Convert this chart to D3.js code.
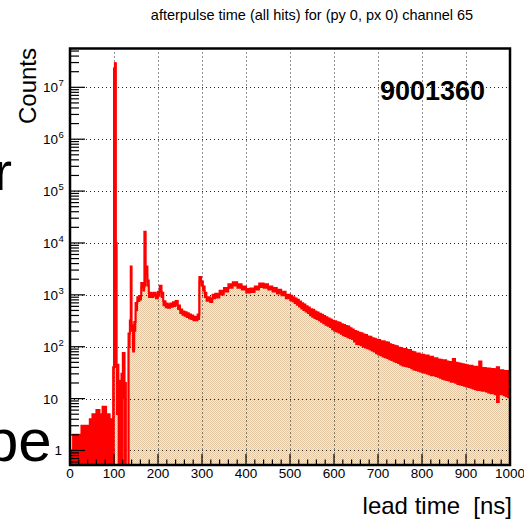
<!DOCTYPE html>
<html>
<head>
<meta charset="utf-8">
<script src="https://cdn.jsdelivr.net/npm/d3@7"></script>
<style>
  body { margin: 0; background: #fff; }
  svg { display: block; }
  text { font-family: "Liberation Sans", Arial, Helvetica, sans-serif; }
</style>
</head>
<body>
<div id="chart"></div>
<script>
// histogram: bin start [ns], upper / lower edge of the drawn line
const times = [0, 6, 7, 10, 11, 26, 45, 51, 60, 67, 74, 82, 90, 98,
  100, 102, 104, 106, 110, 114, 117, 120, 124, 127, 133, 136, 138, 140, 143, 146, 149, 153, 158,
  162, 166, 169, 172, 176, 179, 185, 190, 195,
  200, 204, 208, 212, 217, 222, 228, 234, 240, 245, 250, 255, 260, 265, 270, 275, 280, 285, 290, 294, 298,
  302, 306, 310, 318, 324, 330, 340, 350, 360, 370, 380, 390, 400, 410, 420, 430, 440, 450, 460, 470, 480, 490,
  500, 505, 510, 515, 520, 525, 530, 535, 540, 545, 550, 555, 560, 565, 570, 575, 580, 585, 590, 595,
  600, 605, 610, 615, 620, 625, 630, 635, 640, 645, 650, 655, 660, 665, 670, 675, 680, 685, 690, 695,
  700, 705, 710, 715, 720, 725, 730, 735, 740, 745, 750, 755, 760, 765, 770, 775, 780, 785, 790, 795,
  800, 805, 810, 815, 820, 825, 830, 835, 840, 845, 850, 855, 860, 865, 870, 875, 880, 885, 890, 895,
  900, 905, 910, 915, 920, 925, 930, 935, 940, 945, 950, 955, 960, 965, 970, 975, 980, 985, 990, 995];
const upper = [1, 0, 2, 0, 2, 3, 4, 5, 6, 5, 7, 5, 4, 40,
  2.3e7, 2.9e7, 1.0e4, 45, 22, 14, 30, 76, 20, 0, 180, 320, 3500, 260, 90, 300, 700, 900, 950,
  1700, 1400, 16500, 3500, 1900, 1100, 1050, 1100, 1000,
  1150, 1500, 1100, 750, 680, 650, 680, 720, 760, 620, 520, 480, 460, 440, 420, 400, 380, 375, 420, 2200, 1800,
  1450, 1100, 900, 850, 1000, 1050, 1200, 1350, 1600, 1750, 1600, 1450, 1300, 1320, 1450, 1650, 1600, 1450, 1350, 1250, 1150, 1000,
  960, 900, 850, 800, 740, 690, 650, 600, 570, 530, 515, 480, 455, 430, 415, 390, 370, 350, 335, 318,
  310, 295, 290, 270, 262, 250, 245, 228, 215, 200, 195, 185, 182, 172, 168, 158, 155, 146, 142, 136,
  135, 128, 127, 122, 120, 112, 108, 104, 102, 96, 94, 90, 90, 86, 86, 80, 78, 74, 74, 70,
  70, 68, 68, 64, 64, 60, 60, 57, 56, 54, 55, 52, 51, 50, 58, 49, 48, 47, 46, 45,
  44, 43, 43, 41, 41, 40, 52, 39, 39, 38, 38, 37, 37, 36, 40, 35, 35, 34, 34, 33];
const lower = [0, 0, 0, 0, 0, 0, 0, 0, 0, 0, 0, 0, 0, 0,
  2.3e7, 2.9e7, 40, 5, 0, 0, 0, 10, 0, 0, 100, 250, 300, 200, 80, 200, 500, 750, 800,
  1400, 1200, 1500, 2500, 1500, 900, 900, 950, 850,
  950, 1200, 900, 620, 570, 560, 580, 600, 640, 530, 440, 410, 390, 370, 350, 340, 320, 320, 340, 1800, 1500,
  1200, 900, 760, 720, 850, 880, 1000, 1150, 1350, 1500, 1350, 1250, 1100, 1120, 1250, 1400, 1350, 1250, 1150, 1050, 970, 850,
  790, 740, 690, 640, 590, 540, 505, 470, 440, 400, 375, 355, 340, 320, 300, 280, 262, 250, 236, 215,
  200, 195, 185, 175, 165, 160, 150, 146, 140, 125, 112, 110, 105, 100, 96, 92, 88, 84, 80, 74,
  70, 68, 64, 62, 60, 57, 55, 52, 50, 48, 45, 43, 42, 41, 40, 38, 36, 35, 34, 33,
  32, 31, 30, 29, 28, 28, 27, 26, 25, 24, 23, 22.5, 22, 21, 21, 20, 19, 18.5, 18, 17.5,
  17, 16.5, 16, 15.5, 15, 14.5, 14.5, 14, 14, 13.5, 13, 12.5, 12.5, 12, 8.5, 12, 12, 11.5, 11, 10.5];

const xTickValues = [0, 100, 200, 300, 400, 500, 600, 700, 800, 900, 1000];
const yExponents = [0, 1, 2, 3, 4, 5, 6, 7];

const title = 'afterpulse time (all hits) for (py 0, px 0) channel 65';
const entries = '9001360';

const W = 524, H = 520;
const frame = { left: 70, right: 510, top: 48.5, bottom: 465 };
const yMin = 0.525, yMax = 5.6e7;

const svg = d3.select('#chart').append('svg')
  .attr('width', W).attr('height', H);

svg.append('rect').attr('width', W).attr('height', H).attr('fill', '#fff');

// fragments of the slide text behind the plot
svg.append('text').attr('x', -6).attr('y', 190)
  .style('font-size', '54px').attr('fill', '#000').text('r');
svg.append('text').attr('x', -15).attr('y', 461)
  .style('font-size', '60px').attr('fill', '#000').text('pe');

const x = d3.scaleLinear().domain([0, 1000]).range([frame.left, frame.right]);
const y = d3.scaleLog().domain([yMin, yMax]).range([frame.bottom, frame.top]).clamp(true);
const yv = v => y(Math.max(v, yMin));

const defs = svg.append('defs');
const pat = defs.append('pattern').attr('id', 'beige')
  .attr('width', 2).attr('height', 2).attr('patternUnits', 'userSpaceOnUse');
pat.append('rect').attr('width', 2).attr('height', 2).attr('fill', '#f6e9d8');
pat.append('rect').attr('x', 0).attr('y', 0).attr('width', 1).attr('height', 1).attr('fill', '#e4c8a4');
pat.append('rect').attr('x', 1).attr('y', 1).attr('width', 1).attr('height', 1).attr('fill', '#e4c8a4');

defs.append('clipPath').attr('id', 'frameClip').append('rect')
  .attr('x', frame.left).attr('y', frame.top)
  .attr('width', frame.right - frame.left).attr('height', frame.bottom - frame.top);

const bins = times.map((t, i) => ({ t: t, u: upper[i], l: lower[i] }));
bins.push({ t: 1000, u: upper[upper.length - 1], l: lower[lower.length - 1] });

const plot = svg.append('g').attr('clip-path', 'url(#frameClip)');

// fill under the histogram
plot.append('path').datum(bins)
  .attr('d', d3.area().curve(d3.curveStepAfter)
    .x(d => x(d.t)).y0(frame.bottom).y1(d => yv(d.u)))
  .attr('fill', 'url(#beige)');

// grid
const gridG = plot.append('g')
  .attr('stroke', '#222').attr('stroke-width', 1).attr('stroke-dasharray', '1,3');
gridG.selectAll('.gx').data(xTickValues.filter(v => v > 0 && v < 1000)).enter().append('line')
  .attr('x1', d => Math.round(x(d)) + 0.5).attr('x2', d => Math.round(x(d)) + 0.5)
  .attr('y1', frame.top).attr('y2', frame.bottom);
gridG.selectAll('.gy').data(yExponents).enter().append('line')
  .attr('x1', frame.left).attr('x2', frame.right)
  .attr('y1', d => Math.round(y(Math.pow(10, d))) + 0.5)
  .attr('y2', d => Math.round(y(Math.pow(10, d))) + 0.5);

// red band (bin to bin spread) and outline
plot.append('path').datum(bins)
  .attr('d', d3.area().curve(d3.curveStepAfter)
    .x(d => x(d.t)).y0(d => yv(d.l)).y1(d => yv(d.u)))
  .attr('fill', '#ff0000');
plot.append('path').datum(bins)
  .attr('d', d3.line().curve(d3.curveStepAfter).x(d => x(d.t)).y(d => yv(d.u)))
  .attr('fill', 'none').attr('stroke', '#ff0000').attr('stroke-width', 2);
plot.append('path').datum(bins)
  .attr('d', d3.line().curve(d3.curveStepAfter).x(d => x(d.t)).y(d => yv(d.l)))
  .attr('fill', 'none').attr('stroke', '#ff0000').attr('stroke-width', 1.5);

// ticks
const ticks = svg.append('g').attr('stroke', '#000').attr('stroke-width', 1.2);
const xMinor = d3.range(0, 1001, 20).filter(v => v % 100 !== 0);
ticks.selectAll('.xt').data(xTickValues).enter().append('line')
  .attr('x1', d => x(d)).attr('x2', d => x(d))
  .attr('y1', frame.bottom).attr('y2', frame.bottom - 11);
ticks.selectAll('.xm').data(xMinor).enter().append('line')
  .attr('x1', d => x(d)).attr('x2', d => x(d))
  .attr('y1', frame.bottom).attr('y2', frame.bottom - 5.5);

const yMinor = [];
for (let e = -1; e <= 7; e++) {
  for (let k = 2; k <= 9; k++) {
    const v = k * Math.pow(10, e);
    if (v > yMin && v < yMax) yMinor.push(v);
  }
}
ticks.selectAll('.yt').data(yExponents).enter().append('line')
  .attr('x1', frame.left).attr('x2', frame.left + 15)
  .attr('y1', d => y(Math.pow(10, d))).attr('y2', d => y(Math.pow(10, d)));
ticks.selectAll('.ym').data(yMinor).enter().append('line')
  .attr('x1', frame.left).attr('x2', frame.left + 9)
  .attr('y1', d => y(d)).attr('y2', d => y(d));

// frame
svg.append('rect')
  .attr('x', frame.left).attr('y', frame.top)
  .attr('width', frame.right - frame.left).attr('height', frame.bottom - frame.top)
  .attr('fill', 'none').attr('stroke', '#000').attr('stroke-width', 2.5);

// tick labels
svg.selectAll('.xl').data(xTickValues).enter().append('text')
  .attr('x', d => x(d)).attr('y', 478)
  .attr('text-anchor', 'middle').style('font-size', '13.5px').attr('fill', '#000')
  .text(d => d);

const yl = svg.selectAll('.yl').data(yExponents).enter().append('g');
yl.append('text')
  .attr('x', d => d === 0 ? 62 : 58).attr('y', d => y(Math.pow(10, d)) + 5)
  .attr('text-anchor', 'end').style('font-size', '13.5px').attr('fill', '#000')
  .text(d => d === 0 ? '1' : '10');
yl.filter(d => d >= 2).append('text')
  .attr('x', 58.5).attr('y', d => y(Math.pow(10, d)) - 1)
  .style('font-size', '9.5px').attr('fill', '#000')
  .text(d => d);

// titles
svg.append('text').attr('x', 312).attr('y', 20)
  .attr('text-anchor', 'middle').style('font-size', '14.5px').attr('fill', '#000')
  .text(title);

svg.append('text')
  .attr('transform', 'translate(36,48) rotate(-90)')
  .attr('text-anchor', 'end').style('font-size', '24px').attr('fill', '#000')
  .text('Counts');

svg.append('text').attr('x', 512).attr('y', 514)
  .attr('text-anchor', 'end').style('font-size', '24px').attr('fill', '#000')
  .text('lead time  [ns]').attr('xml:space', 'preserve').style('white-space', 'pre');

svg.append('text').attr('x', 485).attr('y', 100)
  .attr('text-anchor', 'end').style('font-size', '27px').style('font-weight', 'bold')
  .attr('fill', '#000').text(entries);
</script>
</body>
</html>
